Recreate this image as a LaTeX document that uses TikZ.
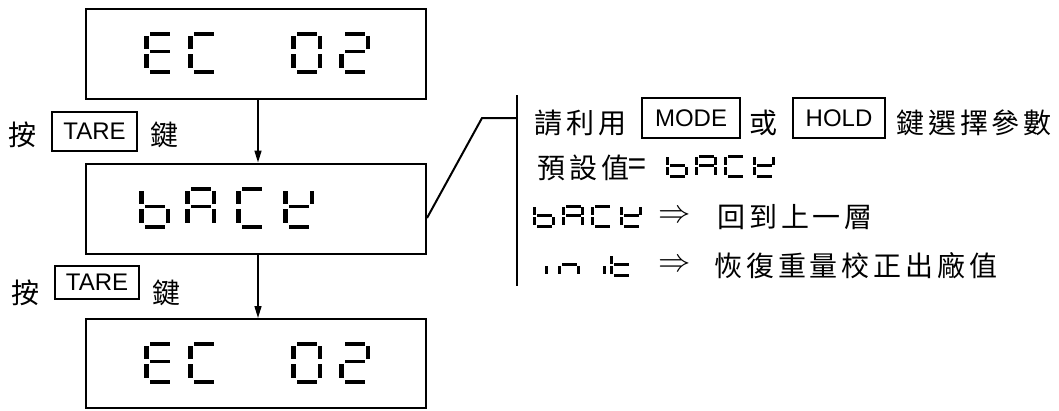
\documentclass[tikz,border=0pt]{standalone}
\usepackage{fontspec}
\setmainfont{Liberation Sans}
\newfontfamily\cjk[LetterSpace=14]{Noto Sans CJK TC}
\newfontfamily\cjkn{Noto Sans CJK TC}
\usetikzlibrary{arrows.meta}
% seven-segment pieces (unit cell 31 x 41.5, y downward)
\def\hT{3.8}\def\vT{4.5}
\newcommand\SegA{\fill (6,0) rectangle (26,\hT);}
\newcommand\SegB{\fill (31-\vT,4) rectangle (31,17);}
\newcommand\SegC{\fill (31-\vT,22) rectangle (31,35.5);}
\newcommand\SegD{\fill (6,41.5-\hT) rectangle (26,41.5);}
\newcommand\SegE{\fill (0,22) rectangle (\vT,35.5);}
\newcommand\SegF{\fill (0,4) rectangle (\vT,17);}
\newcommand\SegG{\fill (6,19.4-\hT/2) rectangle (26,19.4+\hT/2);}
\newcommand\sevseg[4]{\begin{scope}[shift={(#1,#2)},#3]\foreach \s in {#4}{\csname Seg\s\endcsname}\end{scope}}
\begin{document}
\begin{tikzpicture}[x=1pt,y=-1pt,
  disp/.style={draw, line width=2pt, minimum width=340pt, minimum height=90pt, inner sep=0pt},
  keybox/.style={draw, line width=1.8pt, inner sep=0pt, font=\fontsize{24}{28}\selectfont},
  cjkt/.style={inner sep=0pt, font={\cjk\fontsize{28}{32}\selectfont}},
  cjks/.style={inner sep=0pt, font={\cjkn\fontsize{28}{32}\selectfont}},
  dbl/.style={inner sep=0pt, font=\fontsize{24.88}{28}\selectfont, scale=1.3},
  arr/.style={-{Triangle[length=12pt,width=7pt]}, line width=1.5pt},
  link/.style={line width=2pt},
  sm/.style={xscale=0.72,yscale=0.56,execute at begin scope={\def\hT{5.6}\def\vT{4.6}}}]
\useasboundingbox (0,0) rectangle (1059,410);
% display boxes
\node[disp] (d1) at (256,54) {};
\node[disp] (d2) at (256,208.5) {};
\node[disp, minimum height=89pt] (d3) at (256,363.5) {};
\draw[arr] ([xshift=2pt]d1.south) -- ([xshift=2pt]d2.north);
\draw[arr] ([xshift=2pt]d2.south) -- ([xshift=2pt]d3.north);
% EC 02
\sevseg{144}{32}{}{A,D,E,F,G}
\sevseg{188}{32}{}{A,D,E,F}
\sevseg{291}{32}{}{A,B,C,D,E,F}
\sevseg{339}{32}{}{A,B,G,E,D}
% bACk
\sevseg{139}{187}{}{F,E,G,C,D}
\sevseg{185}{187}{}{A,B,C,E,F,G}
\sevseg{236}{187}{}{A,D,E,F}
\sevseg{283}{187}{}{F,E,B,G,D}
% EC 02
\sevseg{144}{342}{}{A,D,E,F,G}
\sevseg{188}{342}{}{A,D,E,F}
\sevseg{291}{342}{}{A,B,C,D,E,F}
\sevseg{339}{342}{}{A,B,G,E,D}
% key labels
\node[cjks] (p1) at (22.5,134.5) {按};
\node[keybox, minimum width=85pt, minimum height=39pt] (k1) at (94.5,131.5) {TARE};
\node[cjks] (j1) at (164,134.5) {鍵};
\node[cjks] (p2) at (25,292.5) {按};
\node[keybox, minimum width=84pt, minimum height=33pt] (k2) at (97,282.5) {\raisebox{-3pt}{TARE}};
\node[cjks] (j2) at (166.5,292.5) {鍵};
% bracket and link
\coordinate (vt) at (517,95);
\coordinate (vb) at (517,286);
\coordinate (kn) at (482,118);
\draw[link] (vt) -- (vb);
\draw[link] ([yshift=-9.5pt]d2.east) -- (kn) -- (kn -| vt);
% line 1
\node[cjkt, anchor=base west] (t1a) at (534,133.6) {請利用};
\node[keybox, minimum width=98pt, minimum height=40pt] (mode) at (691,118) {MODE};
\node[cjks] (t1b) at (763,123) {或};
\node[keybox, minimum width=92pt, minimum height=40pt] (hold) at (839,118) {HOLD};
\node[cjkt, anchor=base west] (t1c) at (896,133.6) {鍵選擇參數};
% line 2
\node[cjkt, anchor=base west] (t2) at (537,178.6) {預設值};
\node[inner sep=0pt, font=\fontsize{32}{34}\selectfont] (eq) at (637,167) {=};
\sevseg{666}{155}{sm}{F,E,G,C,D}
\sevseg{695}{155}{sm}{A,B,C,E,F,G}
\sevseg{724}{155}{sm}{A,D,E,F}
\sevseg{753}{155}{sm}{F,E,B,G,D}
% line 3
\sevseg{533}{205}{sm}{F,E,G,C,D}
\sevseg{562}{205}{sm}{A,B,C,E,F,G}
\sevseg{591}{205}{sm}{A,D,E,F}
\sevseg{620}{205}{sm}{F,E,B,G,D}
\node[dbl] (r3) at (675,217) {$\Rightarrow$};
\node[cjkt, anchor=base west] (t3) at (717,227.6) {回到上一層};
% line 4
\sevseg{545}{254}{sm}{E}
\sevseg{558}{254}{sm}{E,G,C}
\sevseg{603}{254}{sm}{E}
\sevseg{610}{254}{sm}{F,E,G,D}
\node[dbl] (r4) at (675,266) {$\Rightarrow$};
\node[cjkt, anchor=base west] (t4) at (714,276.6) {恢復重量校正出廠值};
\end{tikzpicture}
\end{document}
